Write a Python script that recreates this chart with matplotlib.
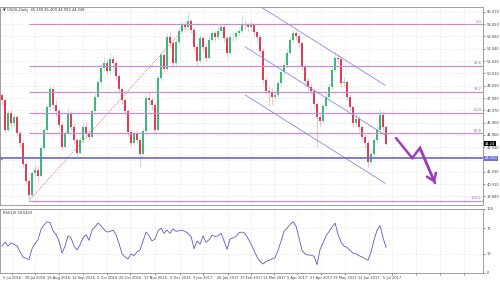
import numpy as np
import matplotlib
matplotlib.use('Agg')
import matplotlib.pyplot as plt

# daily-ish candles (bar index -> x position)
closes = [47.8, 45.4, 46.75, 45.9, 46.4, 45.1, 44.3, 42.6, 41.2, 40.0,
          41.8, 42.1, 41.6, 43.9, 45.4, 47.25, 48.7, 47.4, 46.9, 45.8,
          44.0, 45.1, 46.75, 45.6, 44.5, 43.5, 44.5, 45.6, 45.1, 44.8,
          46.9, 48.1, 49.3, 50.5, 50.9, 50.2, 51.2, 50.9, 49.8, 48.7,
          47.8, 46.9, 45.2, 44.3, 45.1, 44.5, 43.4, 45.3, 48.0, 47.8,
          47.4, 45.4, 49.6, 51.5, 50.4, 53.0, 52.5, 50.9, 52.6, 53.5,
          54.0, 53.8, 54.3, 53.6, 52.2, 51.0, 52.9, 52.2, 51.3, 52.8,
          53.3, 53.0, 53.5, 53.8, 52.9, 51.7, 53.0, 53.0, 53.3, 53.5,
          54.1, 54.0, 53.8, 54.0, 53.4, 53.0, 51.9, 49.5, 48.6, 48.5,
          48.1, 48.2, 49.2, 50.1, 50.7, 51.7, 52.8, 53.3, 53.1, 52.5,
          50.6, 49.4, 48.9, 48.6, 47.5, 46.4, 46.1, 47.3, 48.1, 48.9,
          50.3, 51.3, 51.2, 49.2, 49.3, 48.1, 47.25, 45.9, 46.3, 45.6,
          44.8, 44.3, 42.7, 43.4, 44.5, 45.4, 46.6, 45.6, 44.24]
first_open = 48.2
highs = [48.4, 48.0, 47.0, 47.0, 46.7, 46.6, 45.4, 44.5, 42.8, 41.4,
         42.0, 42.5, 42.4, 44.1, 45.6, 47.4, 49.0, 48.9, 47.8, 47.1,
         46.0, 45.4, 47.2, 46.9, 45.9, 44.7, 44.8, 45.9, 46.0, 45.4,
         47.1, 48.4, 49.6, 50.8, 51.4, 51.1, 51.7, 51.5, 51.0, 50.0,
         48.9, 48.0, 47.1, 45.4, 45.4, 45.3, 44.8, 45.5, 48.3, 48.4,
         48.1, 47.6, 49.9, 51.8, 51.7, 53.3, 53.4, 52.7, 52.9, 53.8,
         54.3, 54.3, 55.1, 54.5, 53.8, 52.4, 53.2, 53.1, 52.4, 53.1,
         53.6, 53.5, 53.8, 54.1, 54.0, 53.1, 53.3, 53.3, 53.6, 53.8,
         54.8, 54.4, 54.2, 54.3, 54.2, 53.6, 53.2, 52.1, 49.7, 49.0,
         48.8, 48.6, 49.5, 50.4, 51.0, 52.0, 53.1, 53.6, 53.5, 53.3,
         52.7, 50.8, 49.7, 49.2, 48.8, 47.7, 46.7, 47.5, 48.4, 49.2,
         50.6, 51.9, 51.6, 51.4, 49.7, 49.5, 48.3, 47.4, 46.7, 46.5,
         45.8, 45.0, 44.5, 43.7, 44.8, 45.7, 47.1, 46.9, 45.8]
lows = [47.4, 45.1, 45.2, 45.6, 45.6, 44.9, 44.0, 42.3, 40.9, 39.7,
        39.9, 41.5, 41.2, 41.5, 43.7, 45.2, 47.0, 47.1, 46.5, 45.5,
        43.7, 43.8, 45.0, 45.3, 44.2, 43.2, 43.4, 44.3, 44.8, 44.5,
        44.7, 46.7, 48.0, 49.1, 50.2, 49.9, 50.0, 50.5, 49.5, 48.4,
        47.5, 46.6, 44.9, 44.0, 44.1, 44.2, 42.3, 43.2, 45.1, 47.4,
        47.0, 45.1, 45.3, 49.4, 50.1, 50.2, 52.1, 50.6, 50.7, 52.4,
        53.3, 53.4, 53.6, 53.3, 51.9, 50.7, 50.9, 51.9, 51.0, 51.2,
        52.6, 52.7, 52.8, 53.3, 52.6, 51.4, 51.6, 52.7, 52.8, 53.1,
        53.3, 53.7, 53.5, 53.6, 53.1, 52.5, 51.6, 49.2, 48.3, 47.3,
        47.4, 47.8, 48.0, 49.0, 49.9, 50.5, 51.5, 52.6, 52.8, 52.2,
        50.3, 49.1, 48.6, 48.3, 47.2, 44.0, 45.7, 45.9, 47.1, 47.9,
        48.7, 50.1, 50.9, 48.9, 48.9, 47.8, 46.9, 45.6, 45.7, 45.3,
        44.5, 43.9, 42.3, 42.5, 43.2, 44.3, 45.2, 45.3, 44.09]
rsi = [42, 48, 42, 47, 45, 42, 33, 25, 23, 21,
       38, 46, 52, 68, 75, 80, 79, 66, 60, 50,
       31, 42, 58, 55, 42, 36, 44, 55, 60, 51,
       67, 72, 78, 74, 68, 64, 65, 67, 60, 46,
       30, 25, 22, 30, 27, 33, 36, 50, 64, 58,
       50, 53, 66, 70, 62, 67, 62, 69, 65, 66,
       67, 65, 62, 57, 38, 50, 45, 58, 48, 52,
       59, 57, 58, 62, 50, 37, 53, 55, 57, 63,
       64, 62, 54, 45, 35, 25, 18, 14, 18, 20,
       22, 24, 35, 50, 65, 70, 76, 80, 73, 55,
       35, 30, 28, 28, 26, 13, 37, 47, 58, 65,
       72, 78, 60, 48, 42, 40, 35, 31, 30, 27,
       25, 22, 20, 33, 52, 67, 74, 55, 40]

date_pos = [3.3, 11, 19, 27, 35, 42.7, 51, 59.3, 67, 75.3, 83, 90.7, 98.3,
            106.3, 114.3, 122.3, 130, 138, 146, 154]
date_labels = ['5 Jul 2016', '28 Jul 2016', '19 Aug 2016', '12 Sep 2016',
               '5 Oct 2016', '26 Oct 2016', '17 Nov 2016', '9 Dec 2016',
               '3 Jan 2017', '26 Jan 2017', '17 Feb 2017', '13 Mar 2017',
               '5 Apr 2017', '27 Apr 2017', '19 May 2017', '12 Jun 2017',
               '5 Jul 2017', '', '', '']
price_ticks = [55.070, 54.050, 53.060, 52.040, 51.020, 50.030, 49.010,
               47.990, 46.970, 45.960, 44.960, 43.940, 41.930,
               40.910, 39.890]
grid_prices = price_ticks + [42.920]

fib_high = 54.05
fib_low = 39.55
fib_levels = [0.0, 23.6, 38.2, 50.0, 61.8, 100.0]
fib_start = (9, 62)
support = 43.05
channels = [(83.7, 55.89, 127.7, 49.04),
            (81, 52.21, 127.7, 44.94),
            (81, 48.25, 127.7, 40.98)]
arrow_x = [131.3, 136.7, 139.3, 144.3]
arrow_y = [44.7, 43.05, 43.88, 40.99]

header = '\u25bc USOIL,Daily  45.340 45.400 44.090 44.240'
rsi_title = 'RSI(14) 39.6423'

opens = [first_open] + closes[:-1]
x = np.arange(len(closes))
YLO, YHI = 39.19, 55.48

fig = plt.figure(figsize=(5, 2.82), dpi=100)
W, H = 500, 282
ax = fig.add_axes([0, 1 - 205 / H, 483 / W, 198 / H])
ax2 = fig.add_axes([0, 1 - 273 / H, 483 / W, 64 / H], sharex=ax)

fs = 2.6
grid_c = '#d8d8d8'
for a in (ax, ax2):
    for s in a.spines.values():
        s.set_color('#909090')
        s.set_linewidth(0.6)
    a.yaxis.tick_right()
    a.tick_params(axis='y', labelsize=fs, length=1.5, width=0.4, pad=1,
                  colors='#404040')
    a.grid(True, color=grid_c, lw=0.4, ls=(0, (2, 2)))
    a.set_axisbelow(True)

ax.set_xlim(-0.67, 160.3)
ax.set_ylim(YLO, YHI)
ax.set_yticks(price_ticks)
ax.set_yticklabels(['%.3f' % v for v in price_ticks])
ax.tick_params(axis='x', bottom=False, labelbottom=False)
ax.hlines(42.920, -1, 161, color=grid_c, lw=0.4, ls=(0, (2, 2)), zorder=0)

up_c = '#3cb878'
dn_c = '#e03c55'
for i in x:
    o, c = opens[i], closes[i]
    col = up_c if c >= o else dn_c
    ax.vlines(i, lows[i], highs[i], color=col, lw=0.5, alpha=0.45)
    ax.bar(i, max(abs(c - o), 0.05), bottom=min(o, c), width=0.55,
           color=col, lw=0)

# fibonacci
rng = fib_high - fib_low
ax.plot([fib_start[0], fib_start[1]], [fib_low, fib_high], color='#e05060',
        lw=0.5, ls=(0, (1.5, 1.5)))
for lv in fib_levels:
    yv = fib_high - lv / 100 * rng
    ax.hlines(yv, fib_start[0], 160.3, color='#c98ccd', lw=0.9)
    ax.text(159.8, yv + 0.06, '%.1f' % lv, fontsize=fs, color='#a060a8',
            ha='right', va='bottom')

for x0, y0, x1, y1 in channels:
    ax.plot([x0, x1], [y0, y1], color='#8a8ae6', lw=0.6)

ax.axhline(support, color='#6f6fe0', lw=1.3)
ax.plot(-0.3, support, marker='>', color='#6f6fe0', ms=2, clip_on=False)

ax.plot(arrow_x, arrow_y, color='#9b3cc0', lw=1.8,
        solid_capstyle='round', solid_joinstyle='miter')
ax.annotate('', xy=(arrow_x[-1], arrow_y[-1]),
            xytext=(arrow_x[-2], arrow_y[-2]),
            arrowprops=dict(arrowstyle='->,head_length=0.5,head_width=0.35',
                            color='#9b3cc0', lw=1.8, shrinkA=0, shrinkB=0))

# price boxes on the axis
ax.text(1.004, (closes[-1] - YLO) / (YHI - YLO), '%.2f' % closes[-1],
        transform=ax.transAxes, fontsize=fs, color='white', ha='left',
        va='center', bbox=dict(boxstyle='square,pad=0.15', fc='black', ec='none'))
ax.text(1.004, (support - YLO) / (YHI - YLO), '%.3f' % support,
        transform=ax.transAxes, fontsize=fs, color='white', ha='left',
        va='center', bbox=dict(boxstyle='square,pad=0.15', fc='#6f6fe0', ec='none'))

ax.text(0.006, 0.995, header, transform=ax.transAxes, fontsize=fs,
        color='#303030', ha='left', va='top')

# rsi panel
ax2.plot(x, rsi, color='#5a5ac8', lw=0.6)
ax2.set_ylim(0, 100)
ax2.set_yticks([100, 70, 30, 0])
ax2.set_xticks(date_pos)
ax2.set_xticklabels(date_labels)
ax2.tick_params(axis='x', labelsize=fs, length=1.5, width=0.4, pad=1,
                colors='#404040')
ax2.text(0.006, 0.97, rsi_title, transform=ax2.transAxes, fontsize=fs,
         color='#303030', ha='left', va='top')

fig.savefig('out.png', dpi=100, facecolor='white')
